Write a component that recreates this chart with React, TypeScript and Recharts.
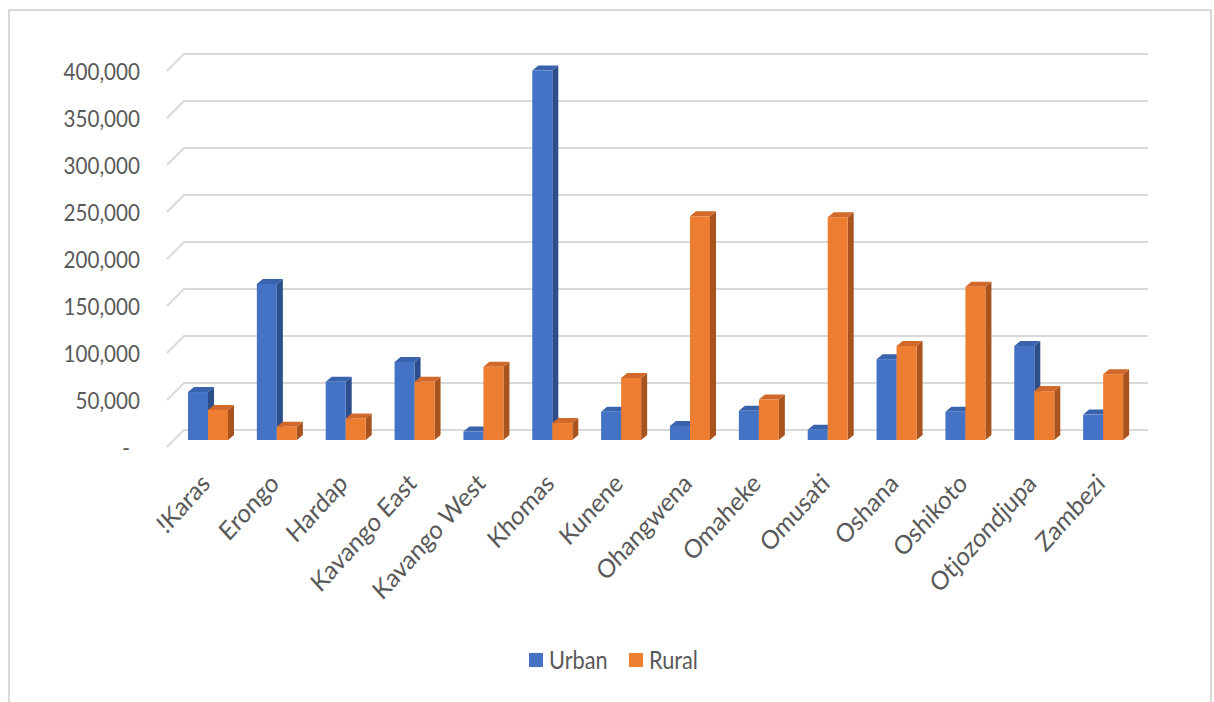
import React from 'react';
import { BarChart, Bar, XAxis, YAxis, CartesianGrid, Legend } from 'recharts';

const regions = [
  '!Karas', 'Erongo', 'Hardap', 'Kavango East', 'Kavango West', 'Khomas', 'Kunene',
  'Ohangwena', 'Omaheke', 'Omusati', 'Oshana', 'Oshikoto', 'Otjozondjupa', 'Zambezi',
];
const urban = [51000, 166000, 62000, 83000, 9000, 393000, 30000, 15000, 31000, 11000, 86000, 30000, 100000, 27000];
const rural = [32000, 14000, 23000, 62000, 78000, 18000, 66000, 238000, 43000, 237000, 100000, 163000, 52000, 70000];
const yTicks = [0, 50000, 100000, 150000, 200000, 250000, 300000, 350000, 400000];

const FONT = 'Lato, "Open Sans", sans-serif';
const TEXT = '#595959';
const GRID = '#d9d9d9';

// depth of the bar blocks and of the back wall / floor
const BAR_DX = 6;
const BAR_DY = 5;
const WALL_BACK = 10;
const WALL_FRONT = 7;

const palette = {
  Urban: { front: '#4472c4', top: '#3a63ae', side: '#2c4f8c' },
  Rural: { front: '#ed7d31', top: '#d0692a', side: '#a9531f' },
};

const data = regions.map((name, i) => ({ name, Urban: urban[i], Rural: rural[i] }));

function Block3D(props: any) {
  const { x, y, width, height, colors } = props;
  if (width == null || height == null) return null;
  const w = width;
  const h = Math.max(height, 0);
  const top = `${x},${y} ${x + BAR_DX},${y - BAR_DY} ${x + w + BAR_DX},${y - BAR_DY} ${x + w},${y}`;
  const side = `${x + w},${y} ${x + w + BAR_DX},${y - BAR_DY} ${x + w + BAR_DX},${y + h - BAR_DY} ${x + w},${y + h}`;
  return (
    <g>
      <polygon points={side} fill={colors.side} />
      <polygon points={top} fill={colors.top} />
      <rect x={x} y={y} width={w} height={h} fill={colors.front} />
    </g>
  );
}

function gridLine(props: any) {
  const { x1, x2, y1, key } = props;
  const d = `M${x1 - WALL_FRONT},${y1 + WALL_FRONT} L${x1 + WALL_BACK},${y1 - WALL_BACK} L${x2 + WALL_BACK},${y1 - WALL_BACK}`;
  return <path key={key} d={d} fill="none" stroke={GRID} strokeWidth={2} />;
}

// text narrowed horizontally on screen (after any rotation)
function SqueezedText({ x, y, angle = 0, anchor = 'start', size = 24, squeeze = 0.86, children }: any) {
  return (
    <g transform={`translate(${x},${y}) scale(${squeeze},1) rotate(${angle})`}>
      <text x={0} y={0} textAnchor={anchor} fill={TEXT} fontSize={size} fontFamily={FONT}>
        {children}
      </text>
    </g>
  );
}

function ValueTick(props: any) {
  const { y, payload } = props;
  const v = payload.value as number;
  const label = v === 0 ? '-' : v.toLocaleString('en-US');
  return (
    <SqueezedText x={v === 0 ? 130 : 140} y={y + 16} anchor="end">
      {label}
    </SqueezedText>
  );
}

function RegionTick(props: any) {
  const { x, y, payload } = props;
  return (
    <SqueezedText x={x + 3} y={y + 37} angle={-45} anchor="end" size={26} squeeze={0.9}>
      {payload.value}
    </SqueezedText>
  );
}

function LegendRow() {
  const items = [
    { key: 'Urban', x: 529 },
    { key: 'Rural', x: 629 },
  ] as const;
  return (
    <svg width={1214} height={30} style={{ display: 'block' }}>
      {items.map((it) => (
        <g key={it.key}>
          <rect x={it.x} y={8} width={14} height={14} fill={palette[it.key].front} />
          <SqueezedText x={it.x + 20} y={24} size={25} squeeze={0.87}>
            {it.key}
          </SqueezedText>
        </g>
      ))}
    </svg>
  );
}

export default function App() {
  return (
    <div style={{ position: 'absolute', left: 0, top: 0, width: 1214, height: 702, background: '#fff', overflow: 'hidden' }}>
      <div style={{ position: 'absolute', left: 8, top: 9, width: 1200, height: 720, border: `2px solid ${GRID}` }} />
      <div style={{ position: 'absolute', left: 0, top: 0 }}>
        <BarChart
          width={1214}
          height={702}
          data={data}
          margin={{ top: 64, right: 76, left: 74, bottom: 132 }}
          barSize={20}
          barGap={0}
        >
          <CartesianGrid vertical={false} horizontal={gridLine} />
          <XAxis
            dataKey="name"
            axisLine={false}
            tickLine={false}
            interval={0}
            height={100}
            tick={<RegionTick />}
          />
          <YAxis
            domain={[0, 400000]}
            ticks={yTicks}
            axisLine={false}
            tickLine={false}
            width={100}
            tick={<ValueTick />}
          />
          <Legend
            verticalAlign="bottom"
            content={<LegendRow />}
            wrapperStyle={{ top: 645, bottom: 'auto', left: 0, width: 1214 }}
          />
          <Bar dataKey="Urban" isAnimationActive={false} shape={(p: any) => <Block3D {...p} colors={palette.Urban} />} />
          <Bar dataKey="Rural" isAnimationActive={false} shape={(p: any) => <Block3D {...p} colors={palette.Rural} />} />
        </BarChart>
      </div>
    </div>
  );
}
